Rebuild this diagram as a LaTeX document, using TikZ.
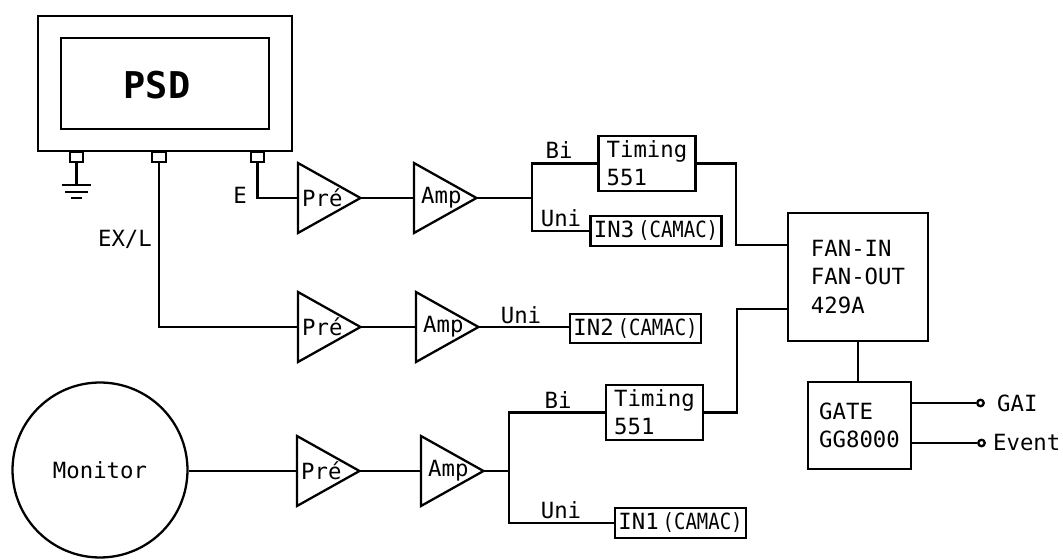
\documentclass[tikz,border=0pt]{standalone}
\usepackage{fontspec}
\usepackage{tikz}
\usetikzlibrary{positioning,shapes.geometric}
\newfontfamily\diagfont{DejaVu Sans Mono}
\newcommand{\camac}{\hspace{0.08cm}\scalebox{.85}[1]{(CAMAC)}}

\begin{document}
\begin{tikzpicture}[x=0.02cm, y=-0.02cm, line width=1.3pt,
    txt/.style={font=\diagfont\fontsize{12.7}{16}\selectfont, inner sep=0},
    block/.style={rectangle, draw, align=left, inner sep=0, font=\diagfont\fontsize{12.7}{16}\selectfont},
    modbox/.style={block, minimum width=2.62cm, minimum height=0.59cm},
    timebox/.style={block, minimum width=1.94cm, minimum height=1.1cm},
    port/.style={rectangle, draw, inner sep=0, minimum width=0.27cm, minimum height=0.2cm},
    term/.style={circle, draw, inner sep=0, minimum size=0.13cm},
    tri/.style={isosceles triangle, isosceles triangle stretches, shape border rotate=0, draw, inner sep=0, outer sep=0,
        minimum width=1.4cm, minimum height=1.25cm, anchor=lower side,
        label={[txt, anchor=west, xshift=0.06cm]lower side:#1}}]
    \useasboundingbox (0,0) rectangle (1063,560);

    \node[draw, minimum width=5.08cm, minimum height=2.7cm] (psd) at (165,83.5) {};
    \node[draw, minimum width=4.16cm, minimum height=1.82cm] (psdin) at (165,83.5) {};
    \node[txt, font=\diagfont\bfseries\fontsize{21}{24}\selectfont] (psdtxt) at (157,85) {PSD};

    \node[port] (pg) at (76.5,157) {};
    \node[port] (pm) at (159,157) {};
    \node[port] (pe) at (257.5,157) {};

    % ground
    \coordinate (gnd) at (76.5,185);
    \draw (pg) -- (gnd);
    \draw ([xshift=-0.3cm]gnd) -- ([xshift=0.3cm]gnd);
    \draw (65,192) -- (88,192);
    \draw (71,198) -- (82,198);

    % amplifiers
    \node[tri=Pré] (pre1) at (298,198) {};
    \node[tri={\hspace{0.06cm}Amp}] (amp1) at (414,198) {};
    \node[tri=Pré] (pre2) at (298,327) {};
    \node[tri={\hspace{0.06cm}Amp}] (amp2) at (416,327) {};
    \node[tri=Pré] (pre3) at (297,471) {};
    \node[tri={\hspace{0.06cm}Amp}] (amp3) at (421,471) {};

    \node[timebox] (time1) at (647,163.5) {Timing\\551};
    \node[timebox] (time2) at (654.5,412.5) {Timing\\551};
    \node[modbox] (in3) at (656,231) {IN3\camac};
    \node[modbox] (in2) at (635.5,328.5) {IN2\camac};
    \node[modbox] (in1) at (680.5,523) {IN1\camac};
    \node[block, minimum width=2.8cm, minimum height=2.56cm] (fan) at (858,277) {FAN-IN\\FAN-OUT\\429A};
    \node[block, minimum width=2.06cm, minimum height=1.74cm] (gate) at (859.5,425.5) {GATE\\GG8000};
    \node[circle, draw, minimum size=3.5cm, inner sep=0, txt] (mon) at (100,470) {Monitor};
    \node[term] (gai) at (980.5,403) {};
    \node[term] (evt) at (981.5,443) {};

    \node[txt] (elab) at (240,195) {E};
    \node[txt] (exlab) at (125,239) {EX/L};
    \node[txt] (bi1) at (559,150) {Bi};
    \node[txt] (uni3) at (561,218) {Uni};
    \node[txt] (uni2) at (521,315) {Uni};
    \node[txt] (bi2) at (558,400) {Bi};
    \node[txt] (uni1) at (561,510) {Uni};
    \node[txt, anchor=west] (gailab) at (996,403) {GAI};
    \node[txt, anchor=west] (evtlab) at (992,443) {Event};

    % first channel
    \coordinate (j1) at (532,198);
    \draw (pe) |- (pre1.lower side);
    \draw (pre1.apex) -- (amp1.lower side);
    \draw (amp1.apex) -- (j1);
    \draw (time1.west) -| (j1) |- (in3.west);

    % second channel
    \draw (pm) |- (pre2.lower side);
    \draw (pre2.apex) -- (amp2.lower side);
    \draw (amp2.apex) -- (amp2.apex -| in2.west);

    % third channel
    \coordinate (j3) at (509,471);
    \draw (pre3.lower side -| mon.east) -- (pre3.lower side);
    \draw (pre3.apex) -- (amp3.lower side);
    \draw (amp3.apex) -- (j3);
    \draw (time2.west) -| (j3) |- (in1.west);

    % fan and gate
    \coordinate (f1) at (736,245);
    \coordinate (f2) at (737,309);
    \draw (time1.east) -| (f1) -- (f1 -| fan.west);
    \draw (time2.east) -| (f2) -- (f2 -| fan.west);
    \draw (fan.south) -- (fan.south |- gate.north);
    \draw (gai -| gate.east) -- (gai);
    \draw (evt -| gate.east) -- (evt);
\end{tikzpicture}
\end{document}
